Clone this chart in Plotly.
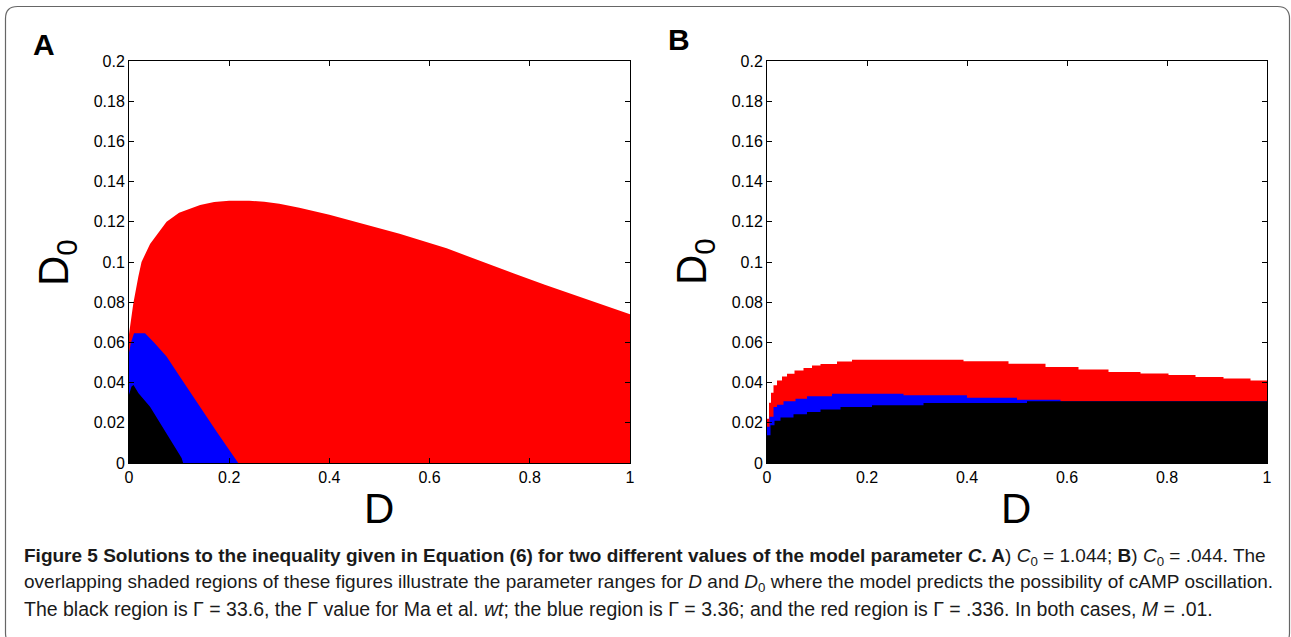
import plotly.graph_objects as go

W, H = 1291, 637

# ---------------- data ----------------
# Panel A (C0 = 1.044)
a_red_D = [0, 0.005, 0.0086, 0.0186, 0.025, 0.042, 0.06, 0.075, 0.10, 0.115, 0.142, 0.17, 0.20, 0.24, 0.27, 0.30, 0.34, 0.40, 0.46, 0.50, 0.54, 0.634, 0.70, 0.767, 0.83, 0.90, 0.95, 1.0]
a_red_D0 = [0.064, 0.072, 0.0794, 0.0927, 0.100, 0.109, 0.115, 0.120, 0.1245, 0.126, 0.1284, 0.1298, 0.1305, 0.1305, 0.1300, 0.1290, 0.127, 0.1235, 0.1195, 0.117, 0.114, 0.1068, 0.1005, 0.0944, 0.0887, 0.0827, 0.0785, 0.074]

a_blue_D = [0, 0.004, 0.01, 0.032, 0.05, 0.075, 0.10, 0.108, 0.142, 0.175, 0.218]
a_blue_D0 = [0.055, 0.060, 0.0645, 0.0645, 0.060, 0.053, 0.0435, 0.0405, 0.028, 0.0156, 0.0]

a_black_D = [0, 0.005, 0.009, 0.019, 0.042, 0.075, 0.105, 0.108]
a_black_D0 = [0.034, 0.038, 0.0388, 0.0347, 0.028, 0.0148, 0.0025, 0.0]

# Panel B (C0 = .044) - stair-stepped boundaries
b_red_D = [0, 0.004, 0.008, 0.013, 0.02, 0.03, 0.04, 0.055, 0.073, 0.09, 0.107, 0.14, 0.17, 0.393, 0.483, 0.557, 0.623, 0.683, 0.747, 0.803, 0.857, 0.913, 0.967, 1.0]
b_red_D0 = [0.022, 0.030, 0.035, 0.0387, 0.041, 0.043, 0.0444, 0.046, 0.0473, 0.0485, 0.0493, 0.0505, 0.0514, 0.0506, 0.0494, 0.0478, 0.0465, 0.0453, 0.0445, 0.0438, 0.0428, 0.0420, 0.0411, 0.0411]

b_blue_D = [0, 0.005, 0.013, 0.02, 0.033, 0.057, 0.08, 0.13, 0.273, 0.40, 0.50, 0.587, 1.0]
b_blue_D0 = [0.018, 0.023, 0.0279, 0.029, 0.0307, 0.032, 0.0332, 0.0345, 0.0337, 0.0325, 0.0315, 0.0307, 0.0307]

b_black_D = [0, 0.007, 0.015, 0.027, 0.053, 0.08, 0.107, 0.147, 0.21, 0.313, 0.52, 1.0]
b_black_D0 = [0.0138, 0.0188, 0.021, 0.0226, 0.0242, 0.0254, 0.0266, 0.0279, 0.0287, 0.0299, 0.0307, 0.0307]

x_tickvals = [0, 0.2, 0.4, 0.6, 0.8, 1.0]
x_ticktext = ["0", "0.2", "0.4", "0.6", "0.8", "1"]
y_tickvals = [0, 0.02, 0.04, 0.06, 0.08, 0.10, 0.12, 0.14, 0.16, 0.18, 0.20]
y_ticktext = ["0", "0.02", "0.04", "0.06", "0.08", "0.1", "0.12", "0.14", "0.16", "0.18", "0.2"]

caption_lines = [
    "<b>Figure 5 Solutions to the inequality given in Equation (6) for two different values of the model parameter <i>C</i>. A</b>) <i>C</i><sub>0</sub> = 1.044; <b>B</b>) <i>C</i><sub>0</sub> = .044. The",
    "overlapping shaded regions of these figures illustrate the parameter ranges for <i>D</i> and <i>D</i><sub>0</sub> where the model predicts the possibility of cAMP oscillation.",
    "The black region is Γ = 33.6, the Γ value for Ma et al. <i>wt</i>; the blue region is Γ = 3.36; and the red region is Γ = .336. In both cases, <i>M</i> = .01.",
]

RED, BLUE, BLACK = "#ff0000", "#0000ff", "#000000"

# ---------------- figure ----------------
fig = go.Figure()

def add_area(xs, ys, color, xa, ya, shape):
    fig.add_trace(go.Scatter(
        x=xs, y=ys, mode="lines", fill="tozeroy", fillcolor=color,
        line=dict(width=0, color=color, shape=shape),
        xaxis=xa, yaxis=ya, hoverinfo="skip", showlegend=False))

add_area(a_red_D, a_red_D0, RED, "x", "y", "linear")
add_area(a_blue_D, a_blue_D0, BLUE, "x", "y", "linear")
add_area(a_black_D, a_black_D0, BLACK, "x", "y", "linear")
add_area(b_red_D, b_red_D0, RED, "x2", "y2", "hv")
add_area(b_blue_D, b_blue_D0, BLUE, "x2", "y2", "hv")
add_area(b_black_D, b_black_D0, BLACK, "x2", "y2", "hv")

def px_x(p):
    return p / W

def px_y(p):
    return 1 - p / H

tickfont = dict(family="Liberation Sans, Arial, sans-serif", size=16, color="#000")

def xaxis_cfg(x0, x1, anchor):
    return dict(domain=[px_x(x0), px_x(x1)], range=[0, 1], anchor=anchor,
                tickvals=x_tickvals, ticktext=x_ticktext, ticks="inside", ticklen=5,
                tickcolor="#000", showline=True, linecolor="#000", linewidth=1,
                mirror="ticks", showgrid=False, zeroline=False, tickfont=tickfont,
                fixedrange=True, automargin=False)

def yaxis_cfg(anchor):
    return dict(domain=[px_y(463), px_y(61)], range=[0, 0.2], anchor=anchor,
                tickvals=y_tickvals, ticktext=y_ticktext, ticks="inside", ticklen=5,
                tickcolor="#000", showline=True, linecolor="#000", linewidth=1,
                mirror="ticks", showgrid=False, zeroline=False, tickfont=tickfont,
                fixedrange=True, automargin=False)

fig.update_layout(
    template="none",
    width=W, height=H, autosize=False,
    margin=dict(l=0, r=0, t=0, b=0, pad=0, autoexpand=False),
    paper_bgcolor="white", plot_bgcolor="white",
    showlegend=False,
    xaxis=xaxis_cfg(129, 630, "y"),
    yaxis=yaxis_cfg("x"),
    xaxis2=xaxis_cfg(767, 1267, "y2"),
    yaxis2=yaxis_cfg("x2"),
)

annots = []
lab_font = dict(family="Liberation Sans, Arial, sans-serif", size=42, color="#000")
# x-axis labels
for cx in (379, 1016):
    annots.append(dict(text="D", x=px_x(cx), y=px_y(508), xref="paper", yref="paper",
                       showarrow=False, xanchor="center", yanchor="middle", font=lab_font))
# y-axis labels
for cx in (56, 694):
    annots.append(dict(text="D<sub>0</sub>", x=px_x(cx), y=px_y(262), xref="paper", yref="paper",
                       showarrow=False, xanchor="center", yanchor="middle", textangle=-90,
                       font=lab_font))
# panel letters
letter_font = dict(family="Liberation Sans, Arial, sans-serif", size=30, color="#000")
annots.append(dict(text="<b>A</b>", x=px_x(43.5), y=px_y(44), xref="paper", yref="paper",
                   showarrow=False, xanchor="center", yanchor="middle", font=letter_font))
annots.append(dict(text="<b>B</b>", x=px_x(679), y=px_y(40), xref="paper", yref="paper",
                   showarrow=False, xanchor="center", yanchor="middle", font=letter_font))
# caption
cap_sizes = [19, 19, 19.5]
for i, line in enumerate(caption_lines):
    annots.append(dict(text=line, x=px_x(22), y=px_y(557 + 26 * i), xref="paper", yref="paper",
                       showarrow=False, xanchor="left", yanchor="middle",
                       font=dict(family="Liberation Sans, Arial, sans-serif",
                                 size=cap_sizes[i], color="#1a1a1a")))
fig.update_layout(annotations=annots)

# outer rounded frame
x0, x1, y0, y1, r = 5.5, 1289.5, 6.5, 645, 12
path = (f"M {px_x(x0)},{px_y(y0 + r)} "
        f"Q {px_x(x0)},{px_y(y0)} {px_x(x0 + r)},{px_y(y0)} "
        f"L {px_x(x1 - r)},{px_y(y0)} "
        f"Q {px_x(x1)},{px_y(y0)} {px_x(x1)},{px_y(y0 + r)} "
        f"L {px_x(x1)},{px_y(y1 - r)} "
        f"Q {px_x(x1)},{px_y(y1)} {px_x(x1 - r)},{px_y(y1)} "
        f"L {px_x(x0 + r)},{px_y(y1)} "
        f"Q {px_x(x0)},{px_y(y1)} {px_x(x0)},{px_y(y1 - r)} Z")
fig.add_shape(type="path", path=path, xref="paper", yref="paper",
              line=dict(color="#666", width=1.2), fillcolor="rgba(0,0,0,0)", layer="below")

fig.write_html("out.html", config={"displayModeBar": False},
               post_script="document.body.style.margin='0';document.body.style.overflow='hidden';")
